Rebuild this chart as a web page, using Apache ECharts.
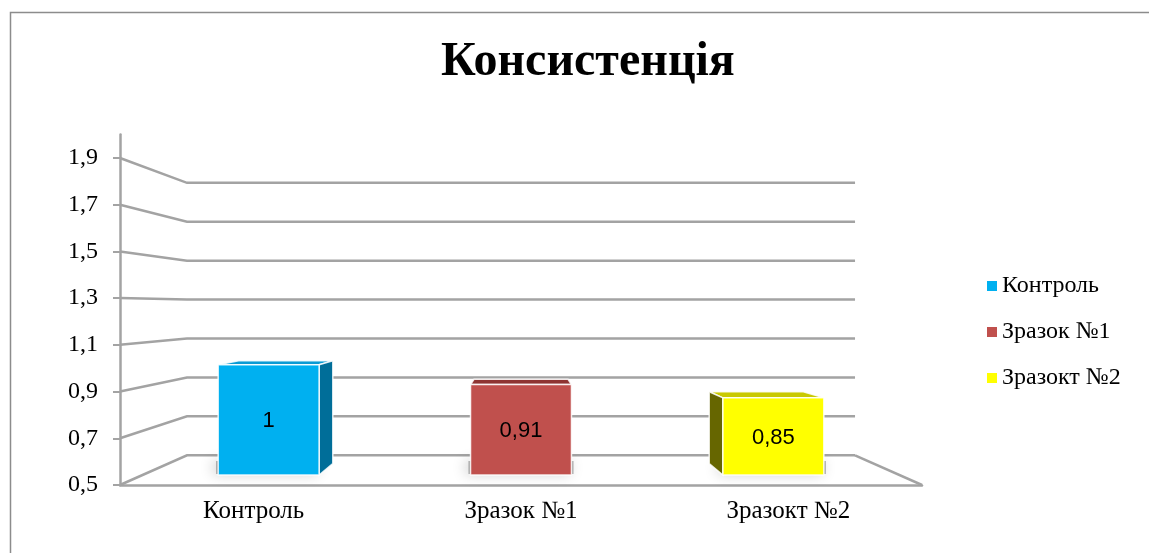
<!DOCTYPE html>
<html>
<head>
<meta charset="utf-8">
<script src="https://cdn.jsdelivr.net/npm/echarts@6/dist/echarts.min.js"></script>
<style>
  html, body { margin: 0; padding: 0; background: #fff; }
  #main { width: 1149px; height: 553px; }
</style>
</head>
<body>
<div id="main"></div>
<script>
// дані діаграми
var categories = ['Контроль', 'Зразок №1', 'Зразокт №2'];
var values = [1, 0.91, 0.85];
var yTicks = [0.5, 0.7, 0.9, 1.1, 1.3, 1.5, 1.7, 1.9];

var frontColors = ['#00b0f0', '#c0504d', '#ffff00'];
var topColors = ['#0a9bd4', '#8e3432', '#c9c900'];
var sideColors = ['#006e99', '#7a2b29', '#666600'];

// псевдо-3D: точка сходу і глибини площин
var VY = 307;
var WALL_DEPTH = 0.167;
var BAR_FRONT = 0.056;
var BAR_BACK = 0.12;
var GRID_COLOR = '#a3a3a3';

function fmt(v){
    return String(v).replace('.', ',');
}

function project(p, k, vx){
    return [p[0] + (vx - p[0]) * k, p[1] + (VY - p[1]) * k];
}

var myChart = echarts.init(document.getElementById('main'));

// стіни і підлога
function renderWalls(params, api){
    var cs = params.coordSys;
    var vx = cs.x + cs.width / 2;
    var v = api.value(1);
    var y = api.coord([0, v])[1];
    var fl = [cs.x, y];
    var fr = [cs.x + cs.width, y];
    var bl = project(fl, WALL_DEPTH, vx);
    var br = project(fr, WALL_DEPTH, vx);
    var style = { stroke: GRID_COLOR, lineWidth: 2.5, fill: null };
    var children = [
        { type: 'polyline', shape: { points: [fl, bl, br] }, style: style }
    ];
    if (params.dataIndex === 0) {
        children.push({ type: 'line', shape: { x1: fr[0], y1: fr[1], x2: br[0], y2: br[1] }, style: style });
    }
    return { type: 'group', children: children };
}

// 3D стовпчик
function renderBar(params, api){
    var cs = params.coordSys;
    var vx = cs.x + cs.width / 2;
    var idx = api.value(0);
    var v = api.value(1);
    var top = api.coord([idx, v]);
    var base = api.coord([idx, yTicks[0]]);
    var hw = api.size([1, 0])[0] * 0.2;
    var cx = top[0];

    var ftl = project([cx - hw, top[1]], BAR_FRONT, vx);
    var ftr = project([cx + hw, top[1]], BAR_FRONT, vx);
    var fbl = project([cx - hw, base[1]], BAR_FRONT, vx);
    var fbr = project([cx + hw, base[1]], BAR_FRONT, vx);
    var btl = project([cx - hw, top[1]], BAR_BACK, vx);
    var btr = project([cx + hw, top[1]], BAR_BACK, vx);
    var bbl = project([cx - hw, base[1]], BAR_BACK, vx);
    var bbr = project([cx + hw, base[1]], BAR_BACK, vx);

    var edge = { stroke: 'rgba(255,255,255,0.85)', lineWidth: 1.5 };
    var children = [];

    // м'яка тінь на підлозі
    children.push({
        type: 'polygon',
        shape: { points: [[fbl[0] - 2, fbl[1] - 14], [fbr[0] + 2, fbr[1] - 14], [fbr[0] + 2, fbr[1] - 1], [fbl[0] - 2, fbl[1] - 1]] },
        style: { fill: 'rgba(90,90,90,0.5)', shadowBlur: 14, shadowOffsetX: -3, shadowColor: 'rgba(0,0,0,0.4)' }
    });
    children.push({
        type: 'polygon',
        shape: { points: [ftl, ftr, btr, btl] },
        style: Object.assign({ fill: topColors[idx] }, edge)
    });
    if (fbr[0] < vx - 5) {
        children.push({
            type: 'polygon',
            shape: { points: [ftr, btr, bbr, fbr] },
            style: Object.assign({ fill: sideColors[idx] }, edge)
        });
    } else if (fbl[0] > vx + 5) {
        children.push({
            type: 'polygon',
            shape: { points: [ftl, btl, bbl, fbl] },
            style: Object.assign({ fill: sideColors[idx] }, edge)
        });
    }
    children.push({
        type: 'polygon',
        shape: { points: [ftl, ftr, fbr, fbl] },
        style: Object.assign({ fill: frontColors[idx] }, edge)
    });
    children.push({
        type: 'text',
        style: {
            text: fmt(v),
            x: (ftl[0] + ftr[0]) / 2,
            y: (ftl[1] + fbl[1]) / 2 + 1,
            align: 'center',
            verticalAlign: 'middle',
            fill: '#000',
            font: '22px "Liberation Sans", Arial, sans-serif'
        }
    });
    return { type: 'group', children: children };
}

var option = {
    backgroundColor: '#fff',
    animation: false,
    title: {
        text: 'Консистенція',
        left: 436,
        top: 34,
        textStyle: {
            fontFamily: '"Liberation Serif", "Times New Roman", serif',
            fontSize: 48,
            fontWeight: 'bold',
            color: '#000'
        }
    },
    legend: {
        orient: 'vertical',
        left: 982,
        top: 269,
        itemWidth: 10,
        itemHeight: 10,
        itemGap: 22,
        icon: 'rect',
        data: categories,
        textStyle: {
            fontFamily: '"Liberation Serif", "Times New Roman", serif',
            fontSize: 24,
            color: '#000'
        }
    },
    graphic: [{
        type: 'rect',
        left: 8,
        top: 10,
        shape: { width: 1200, height: 600 },
        style: { fill: null, stroke: '#8c8c8c', lineWidth: 1.5 },
        silent: true
    }],
    grid: {
        left: 120,
        right: 227,
        top: 134.6,
        bottom: 68
    },
    xAxis: {
        type: 'category',
        data: categories,
        axisLine: { lineStyle: { color: GRID_COLOR, width: 2.5 } },
        axisTick: { length: 7, lineStyle: { color: GRID_COLOR, width: 2 } },
        axisLabel: {
            margin: 14,
            color: '#000',
            fontFamily: '"Liberation Serif", "Times New Roman", serif',
            fontSize: 25
        }
    },
    yAxis: {
        type: 'value',
        min: 0.5,
        max: 2.0,
        splitLine: { show: false },
        axisLine: { show: true, lineStyle: { color: GRID_COLOR, width: 2.5 } },
        axisTick: { show: true, length: 7, customValues: yTicks, lineStyle: { color: GRID_COLOR, width: 2 } },
        axisLabel: {
            customValues: yTicks,
            margin: 22,
            color: '#000',
            fontFamily: '"Liberation Serif", "Times New Roman", serif',
            fontSize: 24,
            formatter: function(v){ return fmt(v); }
        }
    },
    series: []
};

option.series.push({
    name: 'walls',
    type: 'custom',
    silent: true,
    z: 1,
    renderItem: renderWalls,
    data: yTicks.map(function(t){ return [0, t]; })
});

for (var i = 0; i < categories.length; i++) {
    option.series.push({
        name: categories[i],
        type: 'custom',
        z: 2,
        itemStyle: { color: frontColors[i] },
        renderItem: renderBar,
        data: [[i, values[i]]]
    });
}

myChart.setOption(option);
</script>
</body>
</html>
